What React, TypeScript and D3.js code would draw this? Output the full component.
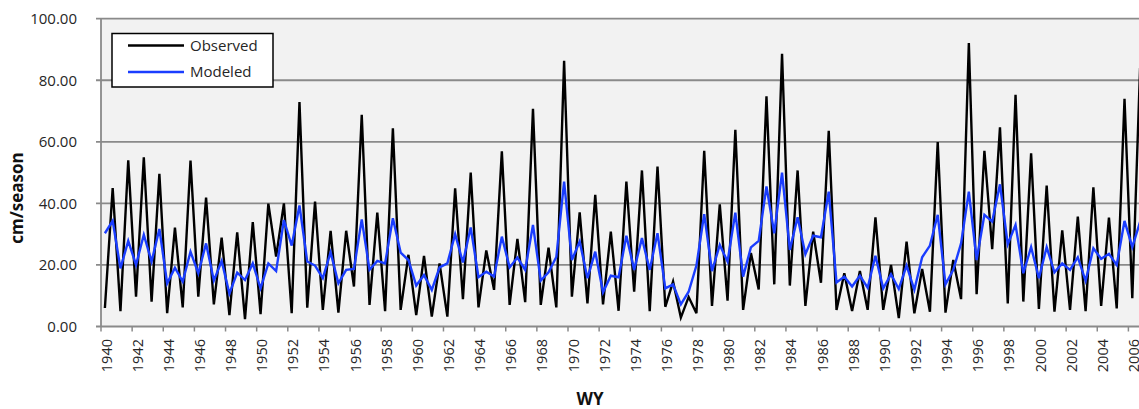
import React from "react";
import * as d3 from "d3";

// Seasonal snow water totals (cm/season), two seasons per water year starting WY 1940
const startYear = 1940;
const observed: number[] = [
  6, 45, 5, 54, 9.7, 55, 8.1, 49.6, 4.3, 32.1, 6.2, 53.9, 9.7, 41.9, 7.2, 28.9,
  3.7, 30.6, 2.4, 33.9, 4, 39.9, 22.7, 40, 4.3, 72.9, 6.1, 40.6, 5.4, 31.1, 4.5, 31.1,
  13.0, 68.8, 7.0, 37.0, 5.0, 64.4, 5.4, 23.3, 3.7, 22.9, 3.2, 20.5, 3.2, 44.9, 8.9, 50.0,
  6.2, 24.7, 11.9, 56.9, 7.0, 28.5, 7.9, 70.7, 7.0, 25.6, 6.2, 86.3, 9.7, 37.1, 7.5, 42.8,
  7.2, 30.8, 5.1, 47.1, 11.3, 50.7, 5.0, 52.0, 6.4, 14.6, 2.9, 9.6, 4.3, 57.1, 6.7, 39.7,
  8.4, 63.9, 5.4, 23.9, 12.0, 74.8, 13.7, 88.6, 13.3, 50.7, 6.7, 30.8, 14.2, 63.6, 5.4, 17.3,
  5.0, 18.0, 5.4, 35.5, 5.4, 20.0, 2.7, 27.6, 4.3, 18.7, 4.8, 59.9, 4.5, 21.6, 8.9, 92.1,
  10.5, 57.1, 25.1, 64.7, 7.5, 75.3, 8.1, 56.3, 5.7, 45.8, 4.8, 31.2, 5.4, 35.7, 5.0, 45.2,
  6.7, 35.4, 5.9, 74.0, 9.2, 84,
];
const modeled: number[] = [
  30.3, 34.3, 18.9, 27.8, 20.0, 29.8, 21.1, 31.7, 14.0, 19.1, 14.6, 24.3, 17.3, 27.0, 14.9, 21.3,
  10.7, 17.5, 15.1, 20.5, 12.4, 20.5, 18.0, 34.6, 26.3, 39.3, 21.1, 19.8, 15.7, 24.1, 14.0, 18.4,
  18.7, 34.8, 18.4, 21.3, 20.5, 35.2, 24.0, 21.6, 13.3, 16.7, 11.9, 19.2, 20.5, 30.0, 20.8, 32.2,
  16.0, 17.8, 16.2, 29.2, 19.2, 22.4, 18.4, 33.0, 14.9, 17.6, 22.6, 47.1, 21.6, 27.6, 15.7, 24.3,
  11.1, 16.5, 16.0, 29.5, 18.4, 28.7, 18.4, 30.3, 12.4, 13.7, 7.2, 11.3, 19.8, 36.5, 18.0, 26.5,
  21.1, 37.0, 16.2, 25.7, 27.8, 45.5, 30.3, 50.0, 24.9, 35.5, 23.5, 29.5, 29.0, 43.8, 14.3, 16.2,
  13.0, 16.5, 12.6, 23.0, 12.4, 17.0, 12.2, 19.8, 11.9, 22.5, 26.3, 36.3, 13.7, 18.4, 27.0, 43.8,
  21.6, 36.3, 34.1, 46.2, 26.7, 33.0, 17.3, 25.8, 15.7, 25.8, 17.6, 20.5, 18.4, 22.5, 14.8, 25.4,
  22.0, 23.6, 20.0, 34.3, 25.8, 34,
];
const yTicks = [0, 20, 40, 60, 80, 100];
const xTicks = d3.range(1940, 2007, 2);

const W = 1139;
const H = 409;
const left = 101;
const top = 18.7;
const bottom = 326.5;
const font = "'Open Sans', 'DejaVu Sans', sans-serif";
const textColor = "#262626";
const gridColor = "#8a8a8a";

export default function App() {
  const x = d3.scaleLinear().domain([1940, 2006]).range([left, 1128.4]);
  const y = d3.scaleLinear().domain([0, 100]).range([bottom, top]);
  // each season sits in the middle of its half of the water year
  const seasonX = (i: number) => x(startYear + (i + 0.5) / 2);
  const line = d3
    .line<number>()
    .x((_, i) => seasonX(i))
    .y((d) => y(d));

  return (
    <svg
      width={W}
      height={H}
      style={{ position: "absolute", left: 0, top: 0, background: "#fff" }}
    >
      <defs>
        <clipPath id="plot">
          <rect x={left} y={top - 2} width={W - left} height={bottom - top + 4} />
        </clipPath>
      </defs>
      <rect x={left} y={top} width={W - left} height={bottom - top} fill="#f2f2f2" />
      {yTicks.map((t) => (
        <g key={t}>
          <line x1={left - 5} x2={W} y1={y(t)} y2={y(t)} stroke={gridColor} strokeWidth={1.8} />
          <text
            x={77}
            y={y(t)}
            dy="0.35em"
            textAnchor="end"
            fontFamily={font}
            fontSize={15}
            fill={textColor}
          >
            {d3.format(".2f")(t)}
          </text>
        </g>
      ))}
      <line x1={left} x2={left} y1={top} y2={bottom} stroke={gridColor} strokeWidth={1.8} />
      {xTicks.map((t) => (
        <g key={t}>
          <line x1={x(t)} x2={x(t)} y1={bottom} y2={bottom + 5} stroke={gridColor} strokeWidth={1.5} />
          <text
            transform={`translate(${x(t) + 10.5},339) rotate(-90)`}
            textAnchor="end"
            fontFamily={font}
            fontSize={14.5}
            fill={textColor}
          >
            {t}
          </text>
        </g>
      ))}
      <g clipPath="url(#plot)">
        <path d={line(observed) ?? ""} fill="none" stroke="#000" strokeWidth={2.4} />
        <path d={line(modeled) ?? ""} fill="none" stroke="#1a3dff" strokeWidth={2.4} />
      </g>
      {/* legend */}
      <rect x={112} y={33.5} width={161} height={53.5} fill="#fff" stroke="#000" strokeWidth={1.5} />
      <line x1={128} x2={184} y1={45.5} y2={45.5} stroke="#000" strokeWidth={2.4} />
      <line x1={128} x2={184} y1={72} y2={72} stroke="#1a3dff" strokeWidth={2.4} />
      <text x={190} y={50.5} fontFamily={font} fontSize={15} fill={textColor}>
        Observed
      </text>
      <text x={190} y={77} fontFamily={font} fontSize={15} fill={textColor}>
        Modeled
      </text>
      {/* axis titles */}
      <text
        transform="translate(23,198) rotate(-90)"
        textAnchor="middle"
        fontFamily={font}
        fontWeight="bold"
        fontSize={17}
        fill="#111"
      >
        cm/season
      </text>
      <text x={590} y={405} textAnchor="middle" fontFamily={font} fontWeight="bold" fontSize={17} fill="#111">
        WY
      </text>
    </svg>
  );
}
